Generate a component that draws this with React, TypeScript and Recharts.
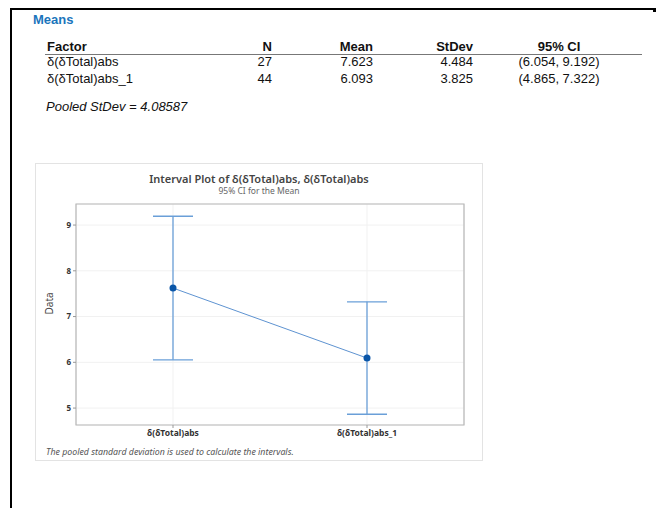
import React from "react";
import { ComposedChart, Line, XAxis, YAxis, CartesianGrid, ErrorBar, ReferenceArea, Label } from "recharts";

// table of means
const factors = ["δ(δTotal)abs", "δ(δTotal)abs_1"];
const counts = [27, 44];
const means = [7.623, 6.093];
const stdevs = [4.484, 3.825];
const ciLow = [6.054, 4.865];
const ciHigh = [9.192, 7.322];
const pooledStDev = "4.08587";

const yTicks = [5, 6, 7, 8, 9];
const Y_DOMAIN: [number, number] = [4.63, 9.46];

const chartData = factors.map((f, i) => ({
  x: i + 1,
  name: f,
  mean: means[i],
  ci: [means[i] - ciLow[i], ciHigh[i] - means[i]],
}));

const TABLE_FONT = "'Liberation Sans', Arial, sans-serif";
const CHART_FONT = "'Noto Sans', 'Open Sans', sans-serif";

const abs = (left: number, top: number, extra: React.CSSProperties = {}): React.CSSProperties => ({
  position: "absolute",
  left,
  top,
  whiteSpace: "nowrap",
  lineHeight: 1,
  ...extra,
});

export default function App() {
  const cell = { fontFamily: TABLE_FONT, fontSize: 13, color: "#111" };
  const rowTops = [55, 72];
  return (
    <div style={{ position: "absolute", left: 0, top: 0, width: 659, height: 508, background: "#fff", overflow: "hidden" }}>
      {/* page frame */}
      <div style={abs(10, 8, { width: 2, height: 500, background: "#000" })} />
      <div style={abs(10, 8, { width: 646, height: 2, background: "#000" })} />
      <div style={abs(653, 8, { width: 3, height: 4, background: "#000" })} />

      <div style={abs(33, 13, { fontFamily: TABLE_FONT, fontSize: 13, fontWeight: "bold", color: "#1a75bc" })}>Means</div>

      {/* header */}
      <div style={abs(47, 40, { ...cell, fontWeight: "bold" })}>Factor</div>
      <div style={abs(222, 40, { ...cell, fontWeight: "bold", width: 50, textAlign: "right" })}>N</div>
      <div style={abs(323, 40, { ...cell, fontWeight: "bold", width: 50, textAlign: "right" })}>Mean</div>
      <div style={abs(423, 40, { ...cell, fontWeight: "bold", width: 50, textAlign: "right" })}>StDev</div>
      <div style={abs(509, 40, { ...cell, fontWeight: "bold", width: 100, textAlign: "center" })}>95% CI</div>
      <div style={abs(45, 54, { width: 597, height: 1, background: "#777" })} />

      {factors.map((f, i) => (
        <React.Fragment key={f}>
          <div style={abs(47, rowTops[i], cell)}>{f}</div>
          <div style={abs(222, rowTops[i], { ...cell, width: 50, textAlign: "right" })}>{counts[i]}</div>
          <div style={abs(323, rowTops[i], { ...cell, width: 50, textAlign: "right" })}>{means[i].toFixed(3)}</div>
          <div style={abs(423, rowTops[i], { ...cell, width: 50, textAlign: "right" })}>{stdevs[i].toFixed(3)}</div>
          <div style={abs(499, rowTops[i], { ...cell, width: 120, textAlign: "center" })}>
            ({ciLow[i].toFixed(3)}, {ciHigh[i].toFixed(3)})
          </div>
        </React.Fragment>
      ))}

      <div style={abs(46, 100, { ...cell, fontStyle: "italic" })}>Pooled StDev = {pooledStDev}</div>

      {/* interval plot panel */}
      <div style={abs(35, 163, { width: 448, height: 298, border: "1px solid #e3e3e3", boxSizing: "border-box", whiteSpace: "normal" })}>
        <div style={abs(0, 9, { width: 446, textAlign: "center", fontFamily: CHART_FONT, fontSize: 11, fontWeight: 600, color: "#444" })}>
          Interval Plot of δ(δTotal)abs, δ(δTotal)abs
        </div>
        <div style={abs(0, 23, { width: 446, textAlign: "center", fontFamily: CHART_FONT, fontSize: 8.5, color: "#666" })}>
          95% CI for the Mean
        </div>
        <div style={{ position: "absolute", left: 0, top: 0 }}>
          <ComposedChart
            width={448}
            height={298}
            data={chartData}
            margin={{ top: 40, right: 20, bottom: 17, left: 0 }}
            style={{ fontFamily: CHART_FONT }}
          >
            <CartesianGrid stroke="#f1f1f1" strokeWidth={1} />
            <XAxis
              type="number"
              dataKey="x"
              domain={[0.5, 2.5]}
              ticks={[1, 2]}
              allowDataOverflow
              tickFormatter={(v: number) => factors[v - 1] ?? ""}
              tick={{ fontSize: 8.5, fontWeight: 700, fill: "#333" }}
              tickSize={3}
              tickLine={{ stroke: "#999" }}
              axisLine={false}
              height={20}
            />
            <YAxis
              type="number"
              domain={Y_DOMAIN}
              ticks={yTicks}
              allowDataOverflow
              tick={{ fontSize: 8, fontWeight: 700, fill: "#333" }}
              tickSize={3}
              tickLine={{ stroke: "#999" }}
              axisLine={false}
              width={40}
            >
              <Label value="Data" angle={-90} position="insideLeft" offset={13} style={{ fontSize: 10, fill: "#444" }} />
            </YAxis>
            <ReferenceArea x1={0.5} x2={2.5} y1={Y_DOMAIN[0]} y2={Y_DOMAIN[1]} fill="none" stroke="#b8b8b8" strokeWidth={1.2} />
            <Line
              dataKey="mean"
              stroke="#5e93d1"
              strokeWidth={1}
              dot={{ r: 3.5, fill: "#0a56a8", stroke: "#0a56a8", strokeWidth: 0 }}
              isAnimationActive={false}
            >
              <ErrorBar dataKey="ci" direction="y" width={20} stroke="#6a9fd8" strokeWidth={1.3} />
            </Line>
          </ComposedChart>
        </div>
        <div style={abs(10, 284, { fontFamily: CHART_FONT, fontSize: 8.8, fontStyle: "italic", color: "#555" })}>
          The pooled standard deviation is used to calculate the intervals.
        </div>
      </div>
    </div>
  );
}
